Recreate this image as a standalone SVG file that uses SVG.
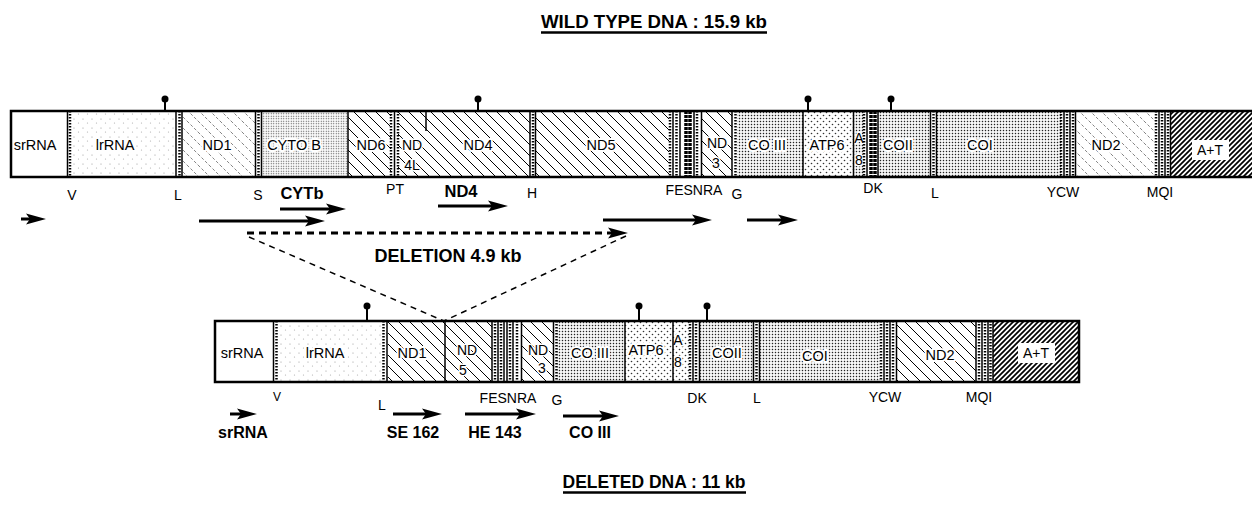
<svg xmlns="http://www.w3.org/2000/svg" width="1252" height="520" viewBox="0 0 1252 520">
<style>
text{font-family:"Liberation Sans",Arial,sans-serif;fill:#000}
.g{font-size:14.5px;text-anchor:middle;paint-order:stroke;stroke:#fff;stroke-width:4px;stroke-linejoin:round}
.g2{font-size:14px;text-anchor:middle;paint-order:stroke;stroke:#fff;stroke-width:3px;stroke-linejoin:round}
.s{font-size:14px;text-anchor:middle}
.b{font-size:16.5px;font-weight:bold;text-anchor:middle}
.t{font-size:19px;font-weight:bold;text-anchor:middle}
.bar{fill:none;stroke:#000;stroke-width:2.5}
.ts{stroke:#000;stroke-width:1.5}
.td{stroke:#000;stroke-width:2.5;stroke-dasharray:1.5 1.5}
.tk{stroke:#000;stroke-width:3.5;stroke-dasharray:3 1}
.arr{stroke:#000;stroke-width:3;fill:none;marker-end:url(#ah)}
.del{stroke:#000;stroke-width:3;fill:none;stroke-dasharray:7 5}
.thin{stroke:#000;stroke-width:1.5;fill:none;stroke-dasharray:6 5}
.pin{stroke:#000;stroke-width:2}
.ab{fill:#fff}
.ul{stroke:#000;stroke-width:2.5}
</style>
<defs>
<pattern id="hatch" width="11" height="11" patternUnits="userSpaceOnUse"><rect width="11" height="11" fill="#fff"/><path d="M0,0 L11,11 M-2,9 L2,13 M9,-2 L13,2" stroke="#000" stroke-width="1"/></pattern>
<pattern id="hatchL" width="11" height="11" patternUnits="userSpaceOnUse"><rect width="11" height="11" fill="#fff"/><path d="M0,0 L11,11 M-2,9 L2,13 M9,-2 L13,2" stroke="#666" stroke-width="0.8" stroke-dasharray="3 2"/></pattern>
<pattern id="at" width="5" height="5" patternUnits="userSpaceOnUse"><rect width="5" height="5" fill="#fff"/><path d="M0,5 L5,0 M-1,1 L1,-1 M4,6 L6,4" stroke="#000" stroke-width="1.7"/></pattern>
<pattern id="grid" width="3" height="3" patternUnits="userSpaceOnUse"><rect width="3" height="3" fill="#fff"/><rect x="0.8" y="0.8" width="1.4" height="1.4" fill="#222"/></pattern>
<pattern id="dense" width="2.5" height="2.5" patternUnits="userSpaceOnUse"><rect width="2.5" height="2.5" fill="#fff"/><rect x="0.7" y="0.7" width="1.1" height="1.1" fill="#444"/></pattern>
<pattern id="sparse" width="9" height="9" patternUnits="userSpaceOnUse"><rect width="9" height="9" fill="#fff"/><circle cx="2" cy="2" r="0.6" fill="#999"/><circle cx="6.5" cy="6" r="0.6" fill="#aaa"/></pattern>
<pattern id="atp" width="6" height="6" patternUnits="userSpaceOnUse"><rect width="6" height="6" fill="#fff"/><circle cx="1.5" cy="1.5" r="0.8" fill="#333"/><circle cx="4.5" cy="4.5" r="0.8" fill="#333"/></pattern>
<marker id="ah" markerUnits="userSpaceOnUse" markerWidth="22" markerHeight="14" viewBox="0 -7 22 14" refX="4" refY="0" orient="auto"><path d="M0,-5.5 L20,0 L0,5.5 L4,0 z" fill="#000"/></marker>
</defs>

<g id="title-wild">
<text class="t" x="654" y="28" textLength="226" lengthAdjust="spacingAndGlyphs">WILD TYPE DNA : 15.9 kb</text>
<line class="ul" x1="541" y1="32.5" x2="767" y2="32.5"/>
</g>

<!-- WILD TYPE BAR -->
<g id="wt-srRNA"><rect x="11" y="111" width="57" height="66" fill="#fff"/><text class="g" x="35" y="150">srRNA</text></g>
<g id="wt-lrRNA"><rect x="70" y="111" width="106" height="66" fill="url(#sparse)"/><text class="g" x="115" y="150">lrRNA</text></g>
<g id="wt-ND1"><rect x="182" y="111" width="74" height="66" fill="url(#hatchL)"/><text class="g" x="217" y="150">ND1</text></g>
<g id="wt-CYTOB"><rect x="261" y="111" width="87" height="66" fill="url(#dense)"/><text class="g" x="294" y="150">CYTO B</text></g>
<g id="wt-ND6"><rect x="348" y="111" width="43" height="66" fill="url(#hatch)"/><text class="g" x="371" y="150">ND6</text></g>
<g id="wt-ND4L"><rect x="398" y="111" width="28" height="66" fill="url(#hatch)"/><text class="g2" x="412" y="150">ND</text><text class="g2" x="412" y="170">4L</text></g>
<g id="wt-ND4"><rect x="426" y="111" width="104" height="66" fill="url(#hatch)"/><text class="g" x="478" y="150">ND4</text></g>
<g id="wt-ND5"><rect x="535" y="111" width="134" height="66" fill="url(#hatch)"/><text class="g" x="601" y="150">ND5</text></g>
<g id="wt-ND3"><rect x="701" y="111" width="31" height="66" fill="url(#hatch)"/><text class="g2" x="717" y="148">ND</text><text class="g2" x="716" y="168">3</text></g>
<g id="wt-COIII"><rect x="737" y="111" width="66" height="66" fill="url(#grid)"/><text class="g" x="767" y="150">CO III</text></g>
<g id="wt-ATP6"><rect x="803" y="111" width="50" height="66" fill="url(#atp)"/><text class="g" x="827" y="150">ATP6</text></g>
<g id="wt-A8"><rect x="853" y="111" width="11" height="66" fill="url(#grid)"/><text class="g2" x="859" y="143">A</text><text class="g2" x="859" y="165">8</text></g>
<g id="wt-COII"><rect x="878" y="111" width="52" height="66" fill="url(#grid)"/><text class="g" x="898" y="150">COII</text></g>
<g id="wt-COI"><rect x="937" y="111" width="124" height="66" fill="url(#grid)"/><text class="g" x="980" y="150">COI</text></g>
<g id="wt-ND2"><rect x="1075" y="111" width="80" height="66" fill="url(#hatchL)"/><text class="g" x="1106" y="150">ND2</text></g>
<g id="wt-AT"><rect x="1170" y="111" width="84" height="66" fill="url(#at)"/><rect class="ab" x="1192" y="140" width="37" height="20"/><text class="g2" x="1210" y="155" style="stroke:none">A+T</text></g>

<g id="wt-trna">
<line class="ts" x1="67.5" y1="111" x2="67.5" y2="177"/><line class="td" x1="70" y1="111" x2="70" y2="177"/>
<line class="ts" x1="176" y1="111" x2="176" y2="177"/><line class="td" x1="179.5" y1="111" x2="179.5" y2="177"/><line class="ts" x1="182" y1="111" x2="182" y2="177"/>
<line class="ts" x1="255.5" y1="111" x2="255.5" y2="177"/><line class="td" x1="258.5" y1="111" x2="258.5" y2="177"/><line class="ts" x1="261.5" y1="111" x2="261.5" y2="177"/>
<line class="ts" x1="348" y1="111" x2="348" y2="177"/>
<line class="td" x1="391" y1="111" x2="391" y2="177"/><line class="ts" x1="394.5" y1="111" x2="394.5" y2="177"/><line class="td" x1="398" y1="111" x2="398" y2="177"/>
<line class="ts" x1="426" y1="111" x2="426" y2="131"/>
<line class="ts" x1="530" y1="111" x2="530" y2="177"/><line class="td" x1="533" y1="111" x2="533" y2="177"/><line class="ts" x1="535.5" y1="111" x2="535.5" y2="177"/>
<line class="td" x1="670" y1="111" x2="670" y2="177"/><line class="ts" x1="673" y1="111" x2="673" y2="177"/><line class="td" x1="676.5" y1="111" x2="676.5" y2="177"/><line class="ts" x1="680" y1="111" x2="680" y2="177"/><line class="tk" x1="686" y1="111" x2="686" y2="177"/><line class="tk" x1="690" y1="111" x2="690" y2="177"/><line class="ts" x1="694" y1="111" x2="694" y2="177"/><line class="td" x1="697" y1="111" x2="697" y2="177"/><line class="ts" x1="701.5" y1="111" x2="701.5" y2="177"/>
<line class="ts" x1="732" y1="111" x2="732" y2="177"/><line class="td" x1="735.5" y1="111" x2="735.5" y2="177"/>
<line class="ts" x1="803" y1="111" x2="803" y2="177"/>
<line class="ts" x1="853.5" y1="111" x2="853.5" y2="177"/>
<line class="td" x1="864" y1="111" x2="864" y2="177"/><line class="ts" x1="867" y1="111" x2="867" y2="177"/><line class="tk" x1="871" y1="111" x2="871" y2="177"/><line class="tk" x1="875" y1="111" x2="875" y2="177"/><line class="ts" x1="878" y1="111" x2="878" y2="177"/>
<line class="ts" x1="930.5" y1="111" x2="930.5" y2="177"/><line class="td" x1="933.5" y1="111" x2="933.5" y2="177"/><line class="ts" x1="936.5" y1="111" x2="936.5" y2="177"/>
<line class="td" x1="1061" y1="111" x2="1061" y2="177"/><line class="ts" x1="1064" y1="111" x2="1064" y2="177"/><line class="td" x1="1067" y1="111" x2="1067" y2="177"/><line class="ts" x1="1070" y1="111" x2="1070" y2="177"/><line class="td" x1="1073" y1="111" x2="1073" y2="177"/><line class="ts" x1="1075.5" y1="111" x2="1075.5" y2="177"/>
<line class="td" x1="1156" y1="111" x2="1156" y2="177"/><line class="ts" x1="1159" y1="111" x2="1159" y2="177"/><line class="td" x1="1162" y1="111" x2="1162" y2="177"/><line class="ts" x1="1165" y1="111" x2="1165" y2="177"/><line class="td" x1="1168" y1="111" x2="1168" y2="177"/><line class="ts" x1="1170.5" y1="111" x2="1170.5" y2="177"/>
</g>
<rect id="wt-bar" class="bar" x="11" y="111" width="1245" height="66"/>

<g id="wt-pins">
<line class="pin" x1="165" y1="99" x2="165" y2="111"/><circle cx="165" cy="99" r="3.5"/>
<line class="pin" x1="478" y1="99" x2="478" y2="111"/><circle cx="478" cy="99" r="3.5"/>
<line class="pin" x1="808" y1="99" x2="808" y2="111"/><circle cx="808" cy="99" r="3.5"/>
<line class="pin" x1="891" y1="99" x2="891" y2="111"/><circle cx="891" cy="99" r="3.5"/>
</g>

<g id="wt-labels">
<text class="s" x="72" y="200">V</text>
<text class="s" x="178" y="200">L</text>
<text class="s" x="258" y="200">S</text>
<text class="b" x="302" y="199">CYTb</text>
<text class="s" x="395" y="194">PT</text>
<text class="b" x="461" y="197">ND4</text>
<text class="s" x="532" y="198">H</text>
<text class="s" x="694" y="195">FESNRA</text>
<text class="s" x="737" y="199">G</text>
<text class="s" x="873" y="193">DK</text>
<text class="s" x="935" y="198">L</text>
<text class="s" x="1063" y="197">YCW</text>
<text class="s" x="1160" y="197">MQI</text>
</g>

<!-- DELETED BAR -->
<g id="del-srRNA"><rect x="215" y="321" width="58" height="61" fill="#fff"/><text class="g" x="242" y="358">srRNA</text></g>
<g id="del-lrRNA"><rect x="277" y="321" width="106" height="61" fill="url(#sparse)"/><text class="g" x="325" y="358">lrRNA</text></g>
<g id="del-ND1"><rect x="388" y="321" width="57" height="61" fill="url(#hatch)"/><text class="g" x="412" y="358">ND1</text></g>
<g id="del-ND5"><rect x="445" y="321" width="47" height="61" fill="url(#hatch)"/><text class="g2" x="467" y="355">ND</text><text class="g2" x="463" y="375">5</text></g>
<g id="del-ND3"><rect x="522" y="321" width="31" height="61" fill="url(#hatch)"/><text class="g2" x="538" y="355">ND</text><text class="g2" x="542" y="373">3</text></g>
<g id="del-COIII"><rect x="557" y="321" width="68" height="61" fill="url(#grid)"/><text class="g" x="590" y="358">CO III</text></g>
<g id="del-ATP6"><rect x="625" y="321" width="48" height="61" fill="url(#atp)"/><text class="g" x="646" y="355">ATP6</text></g>
<g id="del-A8"><rect x="673" y="321" width="17" height="61" fill="url(#atp)"/><text class="g2" x="678" y="345">A</text><text class="g2" x="678" y="367">8</text></g>
<g id="del-COII"><rect x="699" y="321" width="54" height="61" fill="url(#grid)"/><text class="g" x="727" y="358">COII</text></g>
<g id="del-COI"><rect x="759" y="321" width="121" height="61" fill="url(#grid)"/><text class="g" x="815" y="361">COI</text></g>
<g id="del-ND2"><rect x="897" y="321" width="79" height="61" fill="url(#hatch)"/><text class="g" x="940" y="360">ND2</text></g>
<g id="del-AT"><rect x="993" y="321" width="86" height="61" fill="url(#at)"/><rect class="ab" x="1018" y="343" width="37" height="20"/><text class="g2" x="1036" y="358" style="stroke:none">A+T</text></g>

<g id="del-trna">
<line class="ts" x1="273.5" y1="321" x2="273.5" y2="382"/><line class="td" x1="276.5" y1="321" x2="276.5" y2="382"/>
<line class="td" x1="383.5" y1="321" x2="383.5" y2="382"/><line class="ts" x1="387" y1="321" x2="387" y2="382"/>
<line class="ts" x1="445" y1="321" x2="445" y2="382"/>
<line class="ts" x1="492" y1="321" x2="492" y2="382"/><line class="td" x1="495" y1="321" x2="495" y2="382"/><line class="ts" x1="498" y1="321" x2="498" y2="382"/><line class="td" x1="501" y1="321" x2="501" y2="382"/><line class="ts" x1="504" y1="321" x2="504" y2="382"/><line class="ts" x1="507" y1="321" x2="507" y2="382"/><line class="td" x1="510" y1="321" x2="510" y2="382"/><line class="ts" x1="513" y1="321" x2="513" y2="382"/><line class="td" x1="517" y1="321" x2="517" y2="382"/><line class="ts" x1="521.5" y1="321" x2="521.5" y2="382"/>
<line class="ts" x1="553.5" y1="321" x2="553.5" y2="382"/><line class="td" x1="556.5" y1="321" x2="556.5" y2="382"/>
<line class="ts" x1="625" y1="321" x2="625" y2="382"/>
<line class="ts" x1="673" y1="321" x2="673" y2="382"/>
<line class="td" x1="690" y1="321" x2="690" y2="382"/><line class="ts" x1="693" y1="321" x2="693" y2="382"/><line class="td" x1="696" y1="321" x2="696" y2="382"/><line class="ts" x1="699.5" y1="321" x2="699.5" y2="382"/>
<line class="ts" x1="753.5" y1="321" x2="753.5" y2="382"/><line class="td" x1="756.5" y1="321" x2="756.5" y2="382"/><line class="ts" x1="759.5" y1="321" x2="759.5" y2="382"/>
<line class="td" x1="881" y1="321" x2="881" y2="382"/><line class="ts" x1="884" y1="321" x2="884" y2="382"/><line class="td" x1="887" y1="321" x2="887" y2="382"/><line class="ts" x1="890" y1="321" x2="890" y2="382"/><line class="td" x1="893" y1="321" x2="893" y2="382"/><line class="ts" x1="896.5" y1="321" x2="896.5" y2="382"/>
<line class="ts" x1="976" y1="321" x2="976" y2="382"/><line class="td" x1="979" y1="321" x2="979" y2="382"/><line class="ts" x1="982" y1="321" x2="982" y2="382"/><line class="td" x1="985" y1="321" x2="985" y2="382"/><line class="ts" x1="988" y1="321" x2="988" y2="382"/><line class="td" x1="990.5" y1="321" x2="990.5" y2="382"/><line class="ts" x1="993" y1="321" x2="993" y2="382"/>
</g>
<rect id="del-bar" class="bar" x="215" y="321" width="864" height="61"/>

<g id="del-pins">
<line class="pin" x1="367" y1="306" x2="367" y2="321"/><circle cx="367" cy="306" r="3.5"/>
<line class="pin" x1="639" y1="306" x2="639" y2="321"/><circle cx="639" cy="306" r="3.5"/>
<line class="pin" x1="707" y1="306" x2="707" y2="321"/><circle cx="707" cy="306" r="3.5"/>
</g>

<g id="del-labels">
<text class="s" x="277" y="401" style="font-size:12px">V</text>
<text class="s" x="382" y="410">L</text>
<text class="s" x="508" y="403">FESNRA</text>
<text class="s" x="557" y="405">G</text>
<text class="s" x="697" y="403">DK</text>
<text class="s" x="757" y="403">L</text>
<text class="s" x="885" y="402">YCW</text>
<text class="s" x="979" y="402">MQI</text>
<text class="b" x="243" y="438" style="font-size:16px">srRNA</text>
<text class="b" x="413" y="438" style="font-size:16px">SE 162</text>
<text class="b" x="495" y="438" style="font-size:16px">HE 143</text>
<text class="b" x="590" y="438" style="font-size:16px">CO III</text>
</g>

<g id="connectors">
<line class="arr" x1="21" y1="219" x2="30" y2="219"/>
<line class="arr" x1="199" y1="221" x2="309" y2="221"/>
<line class="arr" x1="280" y1="209" x2="330" y2="209"/>
<line class="arr" x1="438" y1="206" x2="492" y2="206"/>
<line class="arr" x1="603" y1="220" x2="696" y2="220"/>
<line class="arr" x1="747" y1="220" x2="782" y2="220"/>
<line class="del" x1="247" y1="233" x2="612" y2="233" style="marker-end:url(#ah)"/>
<line class="thin" x1="249" y1="237" x2="444" y2="321"/>
<line class="thin" x1="626" y1="236" x2="444" y2="321"/>
<line class="arr" x1="230" y1="414" x2="241" y2="414"/>
<line class="arr" x1="393" y1="414" x2="426" y2="414"/>
<line class="arr" x1="465" y1="414" x2="520" y2="414"/>
<line class="arr" x1="563" y1="416" x2="603" y2="416"/>
</g>

<g id="deletion-label"><text class="b" x="448" y="262" style="font-size:18px">DELETION 4.9 kb</text></g>

<g id="title-deleted">
<text class="t" x="654" y="488" textLength="183" lengthAdjust="spacingAndGlyphs">DELETED DNA : 11 kb</text>
<line class="ul" x1="563" y1="492.5" x2="746" y2="492.5"/>
</g>
</svg>
